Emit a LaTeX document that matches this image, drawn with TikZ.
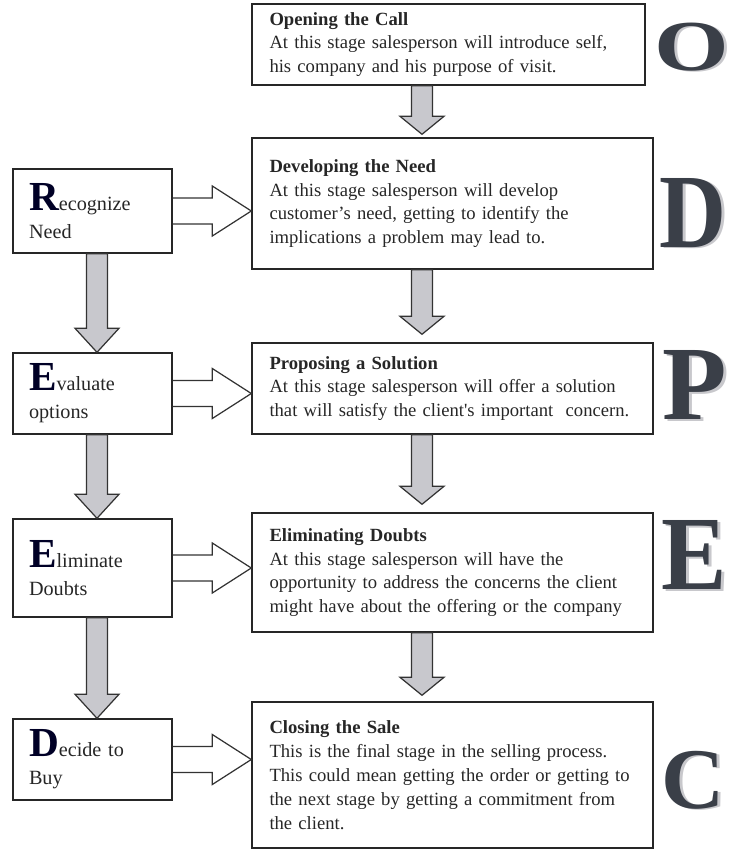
\documentclass[tikz,border=0pt]{standalone}
\usepackage{fontspec}
\setmainfont{Liberation Serif}
\usetikzlibrary{calc}
\definecolor{arrowgray}{RGB}{200,200,205}
\definecolor{lettergray}{RGB}{58,63,72}
\definecolor{shadowgray}{RGB}{200,200,204}
\definecolor{textgray}{RGB}{38,38,38}
\newcommand{\firstletter}[1]{{\fontsize{23.5}{16}\selectfont\bfseries\color{black!85!blue}#1}}

\begin{document}
\begin{tikzpicture}[
	stage/.style={draw=black!85, rectangle, line width=0.8pt, inner xsep=0.35cm, inner ysep=0pt, align=left, text width=7.32cm, font=\fontsize{10.6}{13.6}\selectfont, text=textgray},
	buyer/.style={draw=black!85, rectangle, line width=0.8pt, inner xsep=0.32cm, inner ysep=0pt, align=left, text width=2.54cm, font=\fontsize{11.5}{16}\selectfont, text=textgray},
	bigletter/.style={font=\fontsize{60}{60}\selectfont\bfseries, text=lettergray, inner sep=0pt},
	letshadow/.style={font=\fontsize{60}{60}\selectfont\bfseries, text=shadowgray, inner sep=0pt},
	graydown/.style={draw=black!80, line width=0.7pt, fill=arrowgray, to path={let \p1=(\tikztostart), \p2=(\tikztotarget) in (\x1-0.21cm,\y1) -- (\x1-0.21cm,\y2+#1) -- (\x1-0.44cm,\y2+#1) -- (\x1,\y2) -- (\x1+0.44cm,\y2+#1) -- (\x1+0.21cm,\y2+#1) -- (\x1+0.21cm,\y1) -- cycle}},
	hollowright/.style={draw=black!80, line width=0.7pt, to path={let \p1=(\tikztostart), \p2=(\tikztotarget) in (\x1,\y1+0.26cm) -- (\x2-0.78cm,\y1+0.26cm) -- (\x2-0.78cm,\y1+0.5cm) -- (\x2,\y1) -- (\x2-0.78cm,\y1-0.5cm) -- (\x2-0.78cm,\y1-0.26cm) -- (\x1,\y1-0.26cm)}}
	]
	\useasboundingbox (0,0) rectangle (14.62,-17);
	\node[stage, text width=7.16cm, minimum height=1.62cm] (OpenCall)at(8.97, -0.89) {\textbf{Opening the Call}\\At this stage salesperson will introduce self,\\his company and his purpose of visit.};
	\node[stage, minimum height=2.62cm] (DevNeed)at(9.05, -4.07) {\textbf{Developing the Need}\\At this stage salesperson will develop\\customer’s need, getting to identify the\\implications a problem may lead to.};
	\node[stage, minimum height=1.82cm] (PropSol)at(9.05, -7.77) {\textbf{Proposing a Solution}\\At this stage salesperson will offer a solution\\that will satisfy the client\textquotesingle s important\ \ concern.};
	\node[stage, minimum height=2.38cm] (ElimDoubt)at(9.05, -11.45) {\textbf{Eliminating Doubts}\\At this stage salesperson will have the\\opportunity to address the concerns the client\\might have about the offering or the company};
	\node[stage, minimum height=2.92cm] (CloseSale)at(9.05, -15.5) {\textbf{Closing the Sale}\\This is the final stage in the selling process.\\This could mean getting the order or getting to\\the next stage by getting a commitment from\\the client.};
	\node[buyer, minimum height=1.68cm] (RecNeed)at(1.85, -4.22) {\firstletter{R}ecognize\\Need};
	\node[buyer, minimum height=1.62cm] (EvalOpt)at(1.85, -7.87) {\firstletter{E}valuate\\options};
	\node[buyer, minimum height=1.96cm] (ElimBuyer)at(1.85, -11.36) {\firstletter{E}liminate\\Doubts};
	\node[buyer, minimum height=1.62cm] (DecBuy)at(1.85, -15.19) {\firstletter{D}ecide to\\Buy};
	\node[letshadow, xscale=0.91, yscale=0.68] (OShadow)at(13.89, -0.97) {O};
	\node[bigletter, xscale=0.91, yscale=0.68] (LetO)at(13.83, -0.94) {O};
	\node[letshadow, xscale=0.88] (DShadow)at(13.91, -4.29) {D};
	\node[bigletter, xscale=0.88] (LetD)at(13.85, -4.26) {D};
	\node[letshadow] (PShadow)at(13.95, -7.73) {P};
	\node[bigletter] (LetP)at(13.89, -7.7) {P};
	\node[letshadow, xscale=0.93] (EShadow)at(13.95, -11.13) {E};
	\node[bigletter, xscale=0.93] (LetE)at(13.89, -11.1) {E};
	\node[letshadow, xscale=0.83, yscale=0.82] (CShadow)at(13.93, -15.63) {C};
	\node[bigletter, xscale=0.83, yscale=0.82] (LetC)at(13.87, -15.6) {C};
	\draw[graydown=0.36cm] ([xshift=-0.53cm]OpenCall.south) to ([xshift=-0.61cm, yshift=0.06cm]DevNeed.north);
	\draw[graydown=0.36cm] ([xshift=-0.61cm]DevNeed.south) to ([xshift=-0.61cm, yshift=0.16cm]PropSol.north);
	\draw[graydown=0.36cm] ([xshift=-0.61cm]PropSol.south) to ([xshift=-0.61cm, yshift=0.16cm]ElimDoubt.north);
	\draw[graydown=0.36cm] ([xshift=-0.61cm]ElimDoubt.south) to ([xshift=-0.61cm, yshift=0.12cm]CloseSale.north);
	\draw[graydown=0.48cm] ([xshift=0.09cm]RecNeed.south) to ([xshift=0.09cm]EvalOpt.north);
	\draw[graydown=0.48cm] ([xshift=0.09cm]EvalOpt.south) to ([xshift=0.09cm]ElimBuyer.north);
	\draw[graydown=0.48cm] ([xshift=0.09cm]ElimBuyer.south) to ([xshift=0.09cm]DecBuy.north);
	\draw[hollowright] (RecNeed.east) to (RecNeed.east -| DevNeed.west);
	\draw[hollowright] (EvalOpt.east) to (EvalOpt.east -| PropSol.west);
	\draw[hollowright] (ElimBuyer.east) to (ElimBuyer.east -| ElimDoubt.west);
	\draw[hollowright] (DecBuy.east) to (DecBuy.east -| CloseSale.west);
\end{tikzpicture}
\end{document}
